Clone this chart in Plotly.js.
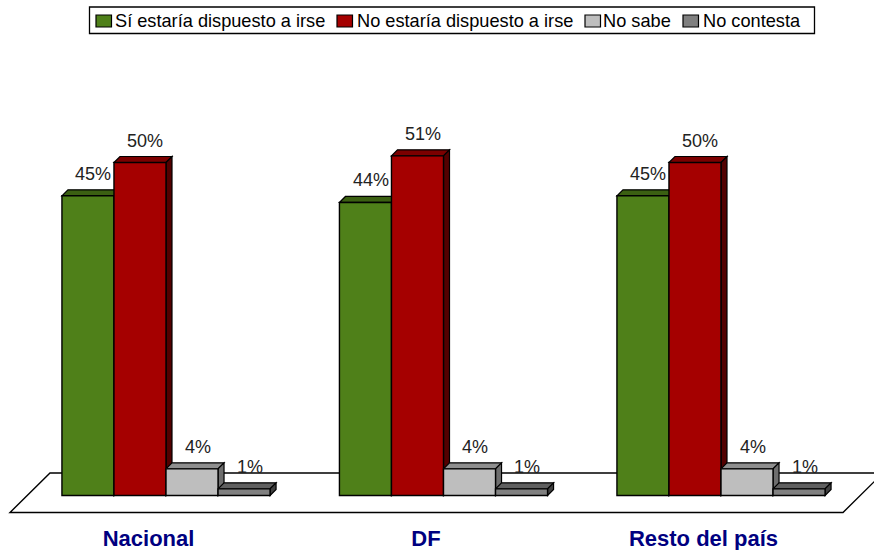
<!DOCTYPE html>
<html><head><meta charset="utf-8">
<script src="https://cdn.plot.ly/plotly-3.0.1.min.js"></script>
<style>html,body{margin:0;padding:0;background:#fff}#c{width:874px;height:550px}</style>
</head><body><div id="c"></div>
<script>
const categories = ['Nacional', 'DF', 'Resto del país'];
const seriesNames = ['Sí estaría dispuesto a irse', 'No estaría dispuesto a irse', 'No sabe', 'No contesta'];
const siDispuesto = [45, 44, 45];
const noDispuesto = [50, 51, 50];
const noSabe = [4, 4, 4];
const noContesta = [1, 1, 1];
const frontColors = ['#4F8019', '#A50000', '#BEBEBE', '#808080'];
const topColors = ['#3B6012', '#7C0000', '#8F8F8F', '#606060'];
const sideColors = ['#2A4A0C', '#530000', '#6E6E6E', '#404040'];
const legendSwatchX = [96, 337, 585, 683];
const legendTextX = [115, 356.5, 603, 703];

const allSeries = [siDispuesto, noDispuesto, noSabe, noContesta];
const W = 874, H = 550, PLOT_B = 523;
const PX_PER_GROUP = 277.5, PX_PER_UNIT = 6.66, BASE_PX = 495.5, GROUP0_PX = 166;
const DEPTH = 6, LABEL_SHIFT_PX = 17.5;
const FONT = '"Liberation Sans", Arial, sans-serif';
const barW = 0.75 / 4;
const dx = DEPTH / PX_PER_GROUP, dv = DEPTH / PX_PER_UNIT;
const px = x => x / W;
const py = y => 1 - y / PLOT_B;

const traces = allSeries.map((vals, j) => ({
  type: 'bar', name: seriesNames[j], x: categories.map((_, i) => i), y: vals,
  marker: {color: frontColors[j], line: {color: '#000', width: 1.4}},
  showlegend: false, hoverinfo: 'x+y'
}));

const poly = pts => 'M' + pts.map(p => p[0] + ',' + p[1]).join('L') + 'Z';
const shapes = [{
  type: 'path', xref: 'paper', yref: 'paper', layer: 'below',
  path: poly([[px(10), py(512.5)], [px(843), py(512.5)], [px(883), py(473)], [px(50), py(473)]]),
  fillcolor: '#fff', line: {color: '#000', width: 1.4}
}];
const annotations = [];
categories.forEach((_, i) => {
  allSeries.forEach((vals, j) => {
    const v = vals[i];
    const x0 = i + (j - 2) * barW, x1 = x0 + barW;
    const ln = {color: '#000', width: 1.2};
    shapes.push({type: 'path', xref: 'x', yref: 'y', layer: 'below', fillcolor: topColors[j], line: ln,
      path: poly([[x0, v], [x1, v], [x1 + dx, v + dv], [x0 + dx, v + dv]])});
    shapes.push({type: 'path', xref: 'x', yref: 'y', layer: 'below', fillcolor: sideColors[j], line: ln,
      path: poly([[x1, 0], [x1, v], [x1 + dx, v + dv], [x1 + dx, dv]])});
    annotations.push({x: (x0 + x1) / 2, y: v, xref: 'x', yref: 'y', text: v + '%', showarrow: false,
      xshift: 5.5, yshift: 22, yanchor: 'middle', xanchor: 'center',
      font: {family: FONT, size: 18, color: '#222'}});
  });
});

// legend box
shapes.push({type: 'rect', xref: 'paper', yref: 'paper', x0: px(89.5), x1: px(814.5), y0: py(7), y1: py(33.5),
  fillcolor: '#fff', line: {color: '#000', width: 1.3}});
seriesNames.forEach((name, j) => {
  shapes.push({type: 'rect', xref: 'paper', yref: 'paper',
    x0: px(legendSwatchX[j]), x1: px(legendSwatchX[j] + 15.5), y0: py(15), y1: py(27),
    fillcolor: frontColors[j], line: {color: '#000', width: 1.2}});
  annotations.push({xref: 'paper', yref: 'paper', x: px(legendTextX[j]), y: py(21), text: name, showarrow: false,
    xanchor: 'left', yanchor: 'middle', xshift: -1, font: {family: FONT, size: 18.2, color: '#000'}, borderpad: 0});
});

const layout = {
  width: W, height: H, margin: {l: 0, r: 0, t: 0, b: H - PLOT_B, pad: 0},
  paper_bgcolor: '#fff', plot_bgcolor: 'rgba(0,0,0,0)',
  barmode: 'group', bargap: 0.25, bargroupgap: 0, showlegend: false,
  xaxis: {
    range: [-GROUP0_PX / PX_PER_GROUP, (W - GROUP0_PX) / PX_PER_GROUP],
    tickmode: 'array', tickvals: categories.map((_, i) => i - LABEL_SHIFT_PX / PX_PER_GROUP), ticktext: categories,
    showgrid: false, zeroline: false, showline: false, ticks: '',
    tickfont: {family: FONT, size: 22, color: '#000080', weight: 'bold'}
  },
  yaxis: {
    visible: false,
    range: [(BASE_PX - PLOT_B) / PX_PER_UNIT, BASE_PX / PX_PER_UNIT]
  },
  shapes, annotations
};
Plotly.newPlot('c', traces, layout, {displayModeBar: false, staticPlot: true});
</script></body></html>
